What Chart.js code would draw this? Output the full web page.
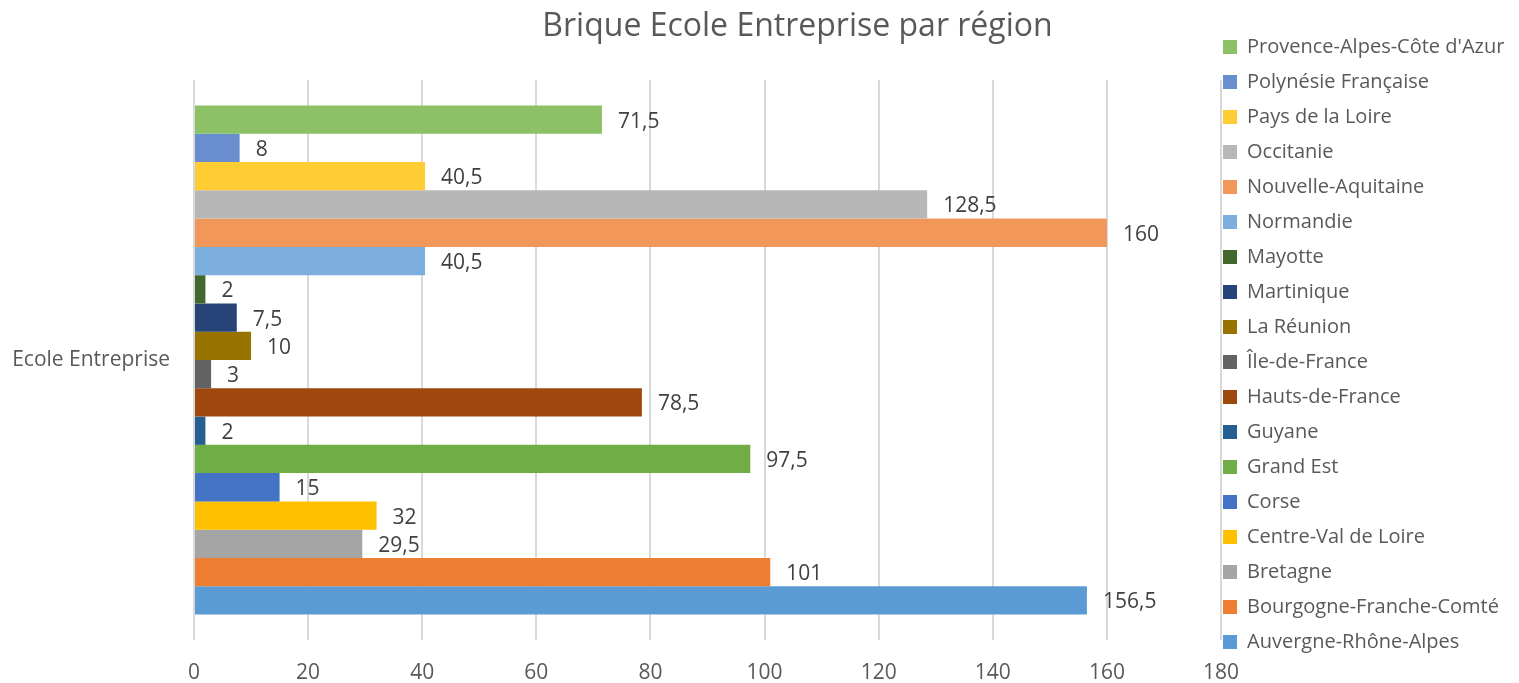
<!DOCTYPE html>
<html lang="fr">
<head>
<meta charset="utf-8">
<title>Brique Ecole Entreprise par région</title>
<script src="https://cdn.jsdelivr.net/npm/chart.js@4.4.1/dist/chart.umd.min.js"></script>
<style>
  html, body { margin: 0; padding: 0; background: #fff; }
  #wrap { width: 1519px; height: 683px; position: relative; }
</style>
</head>
<body>
<div id="wrap"><canvas id="brique-region"></canvas></div>
<script>
// données (ordre du haut vers le bas)
const categories = ['Ecole Entreprise'];
const regions = [
  "Provence-Alpes-Côte d'Azur", 'Polynésie Française', 'Pays de la Loire', 'Occitanie',
  'Nouvelle-Aquitaine', 'Normandie', 'Mayotte', 'Martinique', 'La Réunion', 'Île-de-France',
  'Hauts-de-France', 'Guyane', 'Grand Est', 'Corse', 'Centre-Val de Loire', 'Bretagne',
  'Bourgogne-Franche-Comté', 'Auvergne-Rhône-Alpes'
];
const valeurs = [71.5, 8, 40.5, 128.5, 160, 40.5, 2, 7.5, 10, 3, 78.5, 2, 97.5, 15, 32, 29.5, 101, 156.5];
const couleurs = [
  '#8CC168', '#698ED0', '#FFCD33', '#B7B7B7', '#F1975A', '#7CAFDD', '#43682B', '#264478', '#997300',
  '#636363', '#9E480E', '#255E91', '#70AD47', '#4472C4', '#FFC000', '#A5A5A5', '#ED7D31', '#5B9BD5'
];
const xTicks = [0, 20, 40, 60, 80, 100, 120, 140, 160, 180];

Chart.defaults.font.family = '"Open Sans", sans-serif';
Chart.defaults.font.size = 21;
Chart.defaults.color = '#595959';

// étiquettes de valeur à droite des barres (virgule décimale)
const etiquettes = {
  id: 'etiquettes',
  afterDatasetsDraw(chart) {
    const { ctx } = chart;
    ctx.save();
    ctx.font = '21px "Open Sans"';
    ctx.fillStyle = '#404040';
    ctx.textBaseline = 'middle';
    ctx.textAlign = 'left';
    chart.data.datasets.forEach((ds, i) => {
      chart.getDatasetMeta(i).data.forEach((bar, j) => {
        ctx.fillText(String(ds.data[j]).replace('.', ','), bar.x + 16, bar.y + 2);
      });
    });
    ctx.restore();
  }
};

// petit recalage du titre et de la légende comme dans Excel
const recalage = {
  id: 'recalage',
  afterLayout(chart) {
    chart.titleBlock.left += 38;
    chart.titleBlock.right += 38;
    chart.legend.left -= 13;
    chart.legend.right -= 13;
    chart.legend.top += 3;
    chart.legend.bottom += 3;
  }
};

const chartConfig = {
  type: 'bar',
  data: {
    labels: categories,
    datasets: regions.map((nom, i) => ({
      label: nom,
      data: [valeurs[i]],
      backgroundColor: couleurs[i],
      borderWidth: 0
    }))
  },
  options: {
    indexAxis: 'y',
    responsive: true,
    maintainAspectRatio: false,
    animation: false,
    layout: { padding: 0 },
    datasets: { bar: { categoryPercentage: 0.909, barPercentage: 1 } },
    scales: {
      x: {
        min: xTicks[0],
        max: xTicks[xTicks.length - 1],
        ticks: { stepSize: xTicks[1] - xTicks[0], padding: 20, color: '#595959', maxRotation: 0 },
        grid: { color: '#d9d9d9', lineWidth: 2, drawTicks: false },
        border: { display: false },
        afterFit(scale) { scale.height = 43; }
      },
      y: {
        ticks: { padding: 24, color: '#595959' },
        grid: { display: false, drawTicks: false },
        border: { display: false },
        afterFit(scale) { scale.width = 194; }
      }
    },
    plugins: {
      title: {
        display: true,
        text: 'Brique Ecole Entreprise par région',
        color: '#595959',
        font: { size: 32, weight: 'normal' },
        padding: { top: 8, bottom: 33.6 }
      },
      legend: {
        position: 'right',
        maxWidth: 298,
        labels: { boxWidth: 14, boxHeight: 14, padding: 15, color: '#595959', font: { size: 20 } }
      },
      tooltip: { enabled: false }
    }
  },
  plugins: [etiquettes, recalage]
};

const chart = new Chart(document.querySelector('#brique-region'), chartConfig);
</script>
</body>
</html>
